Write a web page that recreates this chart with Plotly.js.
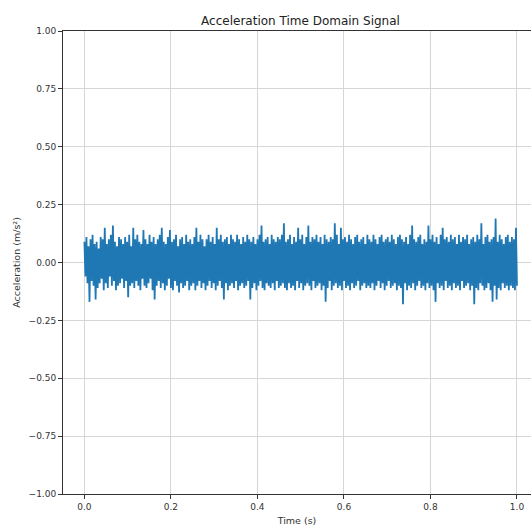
<!DOCTYPE html>
<html>
<head>
<meta charset="utf-8">
<script src="https://cdn.plot.ly/plotly-3.0.1.min.js"></script>
<style>html,body{margin:0;padding:0;background:#fff;}#chart{width:531px;height:527px;}</style>
</head>
<body>
<div id="chart"></div>
<script>
// Time axis: uniform sampling from T_START to T_END (one sample per value below)
const T_START = 0.0;
const T_END = 1.0;

// Acceleration samples (m/s²)
const acceleration = [
  0.09,-0.06,0.11,-0.09,0.07,-0.17,0.10,-0.08,0.12,-0.10,0.08,-0.16,0.09,-0.11,0.06,-0.09,0.11,-0.07,0.10,-0.12,
  0.15,-0.09,0.08,-0.11,0.10,-0.06,0.12,-0.10,0.16,-0.08,0.09,-0.12,0.07,-0.10,0.11,-0.09,0.10,-0.07,0.08,-0.11,
  0.11,-0.08,0.09,-0.15,0.12,-0.10,0.07,-0.09,0.15,-0.11,0.10,-0.08,0.12,-0.10,0.09,-0.12,0.08,-0.07,0.14,-0.10,
  0.10,-0.11,0.08,-0.09,0.12,-0.07,0.09,-0.12,0.11,-0.16,0.08,-0.10,0.10,-0.08,0.12,-0.11,0.15,-0.09,0.09,-0.12,
  0.08,-0.10,0.11,-0.07,0.14,-0.11,0.09,-0.12,0.10,-0.08,0.12,-0.10,0.07,-0.13,0.10,-0.09,0.11,-0.11,0.08,-0.10,
  0.12,-0.08,0.09,-0.12,0.10,-0.10,0.08,-0.09,0.11,-0.12,0.15,-0.10,0.09,-0.08,0.12,-0.11,0.10,-0.09,0.07,-0.12,
  0.10,-0.10,0.12,-0.08,0.09,-0.11,0.11,-0.09,0.08,-0.12,0.15,-0.10,0.10,-0.08,0.12,-0.11,0.09,-0.16,0.10,-0.09,
  0.11,-0.12,0.08,-0.10,0.12,-0.09,0.10,-0.11,0.09,-0.08,0.12,-0.12,0.10,-0.10,0.08,-0.09,0.11,-0.11,0.09,-0.10,
  0.12,-0.08,0.10,-0.16,0.09,-0.11,0.11,-0.09,0.08,-0.12,0.10,-0.10,0.12,-0.08,0.16,-0.11,0.09,-0.12,0.10,-0.09,
  0.11,-0.10,0.08,-0.11,0.12,-0.09,0.10,-0.12,0.09,-0.08,0.11,-0.11,0.10,-0.10,0.12,-0.09,0.17,-0.11,0.09,-0.12,
  0.10,-0.09,0.12,-0.11,0.08,-0.10,0.11,-0.12,0.09,-0.08,0.15,-0.11,0.10,-0.09,0.12,-0.12,0.08,-0.10,0.11,-0.09,
  0.16,-0.10,0.09,-0.12,0.11,-0.08,0.10,-0.11,0.12,-0.10,0.09,-0.09,0.11,-0.12,0.08,-0.10,0.12,-0.17,0.10,-0.11,
  0.09,-0.08,0.11,-0.12,0.10,-0.10,0.17,-0.09,0.12,-0.11,0.08,-0.10,0.15,-0.12,0.10,-0.08,0.11,-0.11,0.09,-0.10,
  0.12,-0.12,0.10,-0.09,0.08,-0.11,0.11,-0.10,0.12,-0.08,0.09,-0.12,0.10,-0.10,0.11,-0.09,0.08,-0.11,0.12,-0.10,
  0.10,-0.11,0.09,-0.09,0.12,-0.12,0.10,-0.10,0.08,-0.08,0.11,-0.11,0.12,-0.09,0.09,-0.12,0.10,-0.10,0.11,-0.08,
  0.09,-0.11,0.12,-0.10,0.10,-0.09,0.08,-0.12,0.11,-0.10,0.12,-0.11,0.10,-0.18,0.09,-0.09,0.11,-0.12,0.08,-0.10,
  0.12,-0.11,0.16,-0.09,0.10,-0.12,0.09,-0.10,0.11,-0.08,0.12,-0.11,0.08,-0.10,0.10,-0.12,0.09,-0.09,0.16,-0.11,
  0.10,-0.10,0.12,-0.12,0.09,-0.17,0.11,-0.09,0.08,-0.11,0.12,-0.10,0.15,-0.12,0.10,-0.08,0.11,-0.11,0.09,-0.10,
  0.12,-0.12,0.10,-0.09,0.11,-0.11,0.08,-0.10,0.12,-0.12,0.09,-0.08,0.11,-0.11,0.10,-0.10,0.12,-0.09,0.08,-0.12,
  0.10,-0.10,0.11,-0.18,0.09,-0.11,0.12,-0.12,0.10,-0.09,0.17,-0.10,0.08,-0.12,0.11,-0.11,0.12,-0.09,0.09,-0.12,
  0.10,-0.17,0.11,-0.10,0.19,-0.16,0.09,-0.11,0.12,-0.12,0.10,-0.09,0.08,-0.11,0.11,-0.10,0.12,-0.12,0.09,-0.10,
  0.11,-0.11,0.10,-0.12,0.15,-0.10
];

const titleText = "Acceleration Time Domain Signal";
const xLabel = "Time (s)";
const yLabel = "Acceleration (m/s²)";

const trace = {
  type: "scatter",
  mode: "lines",
  y: acceleration,
  x0: T_START,
  dx: (T_END - T_START) / (acceleration.length - 1),
  line: { color: "#1f77b4", width: 1.8 },
  hoverinfo: "skip"
};

const axisFont = { family: "DejaVu Sans, sans-serif", size: 9, color: "#333" };

const layout = {
  width: 531,
  height: 527,
  margin: { l: 63, r: 0, t: 31, b: 33, pad: 0 },
  paper_bgcolor: "#fff",
  plot_bgcolor: "#fff",
  showlegend: false,
  font: { family: "DejaVu Sans, sans-serif", color: "#333" },
  title: {
    text: titleText,
    font: { family: "DejaVu Sans, sans-serif", size: 12, color: "#222" },
    x: 0.5075, xref: "paper", xanchor: "center",
    y: 0.961, yref: "container", yanchor: "middle"
  },
  xaxis: {
    range: [-0.0495, 1.0324],
    tick0: 0, dtick: 0.2, tickformat: ".1f",
    ticks: "outside", ticklen: 4, tickwidth: 1, tickcolor: "#333",
    tickfont: axisFont,
    showgrid: true, gridcolor: "#d6d6d6", gridwidth: 1,
    zeroline: false,
    showline: true, linecolor: "#333", linewidth: 1, mirror: true,
    title: { text: xLabel, font: { family: "DejaVu Sans, sans-serif", size: 9.5, color: "#333" }, standoff: 6 },
    automargin: false
  },
  yaxis: {
    range: [-1, 1],
    tick0: -1, dtick: 0.25, tickformat: ".2f",
    ticks: "outside", ticklen: 4, tickwidth: 1, tickcolor: "#333",
    tickfont: axisFont,
    showgrid: true, gridcolor: "#d6d6d6", gridwidth: 1,
    zeroline: false,
    showline: true, linecolor: "#333", linewidth: 1, mirror: false,
    title: { text: yLabel, font: { family: "DejaVu Sans, sans-serif", size: 9.5, color: "#333" }, standoff: 6 },
    automargin: false
  }
};

Plotly.newPlot("chart", [trace], layout, { staticPlot: true, displayModeBar: false });
</script>
</body>
</html>
